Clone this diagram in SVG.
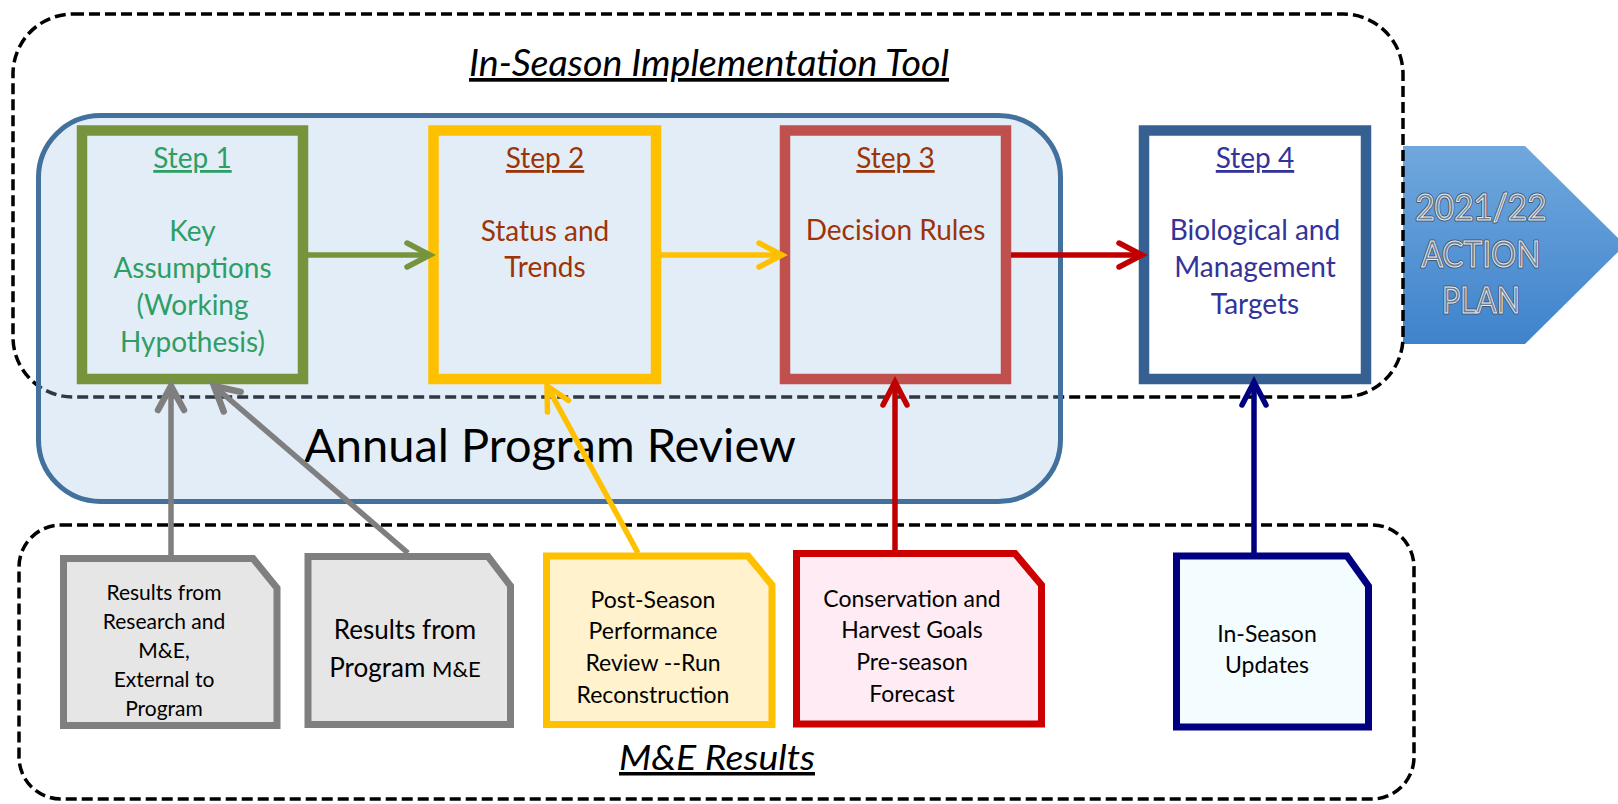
<svg xmlns="http://www.w3.org/2000/svg" width="1618" height="804" viewBox="0 0 1618 804">
<defs>
<linearGradient id="apGrad" x1="0" y1="0" x2="0" y2="1">
<stop offset="0" stop-color="#70A8DD"/>
<stop offset="1" stop-color="#3F83CC"/>
</linearGradient>
<marker id="mGreen" markerUnits="userSpaceOnUse" viewBox="-30 -16 34 32" refX="0" refY="0" markerWidth="34" markerHeight="32" orient="auto" overflow="visible"><path d="M-23,-12 L0,0 L-23,12" fill="none" stroke="#77933C" stroke-width="5.5" stroke-linecap="round"/></marker>
<marker id="mYellow" markerUnits="userSpaceOnUse" viewBox="-30 -16 34 32" refX="0" refY="0" markerWidth="34" markerHeight="32" orient="auto" overflow="visible"><path d="M-23,-12 L0,0 L-23,12" fill="none" stroke="#FFC000" stroke-width="5.5" stroke-linecap="round"/></marker>
<marker id="mRed" markerUnits="userSpaceOnUse" viewBox="-30 -16 34 32" refX="0" refY="0" markerWidth="34" markerHeight="32" orient="auto" overflow="visible"><path d="M-23,-12 L0,0 L-23,12" fill="none" stroke="#C00000" stroke-width="5.5" stroke-linecap="round"/></marker>
<marker id="mGray" markerUnits="userSpaceOnUse" viewBox="-30 -16 34 32" refX="0" refY="0" markerWidth="34" markerHeight="32" orient="auto" overflow="visible"><path d="M-24,-13 L0,0 L-24,13" fill="none" stroke="#7F7F7F" stroke-width="6.5" stroke-linecap="round"/></marker>
<marker id="mNavy" markerUnits="userSpaceOnUse" viewBox="-30 -16 34 32" refX="0" refY="0" markerWidth="34" markerHeight="32" orient="auto" overflow="visible"><path d="M-23,-12 L0,0 L-23,12" fill="none" stroke="#000080" stroke-width="5.5" stroke-linecap="round"/></marker>
</defs>
<style>
text { font-family: Lato, "Open Sans", "Liberation Sans", sans-serif; text-anchor: middle; }
.dash { fill: none; stroke: #000; stroke-width: 3.5; stroke-dasharray: 11 5; }
.title { font-style: italic; fill: #000; text-decoration: underline; }
.step { fill: none; stroke-width: 10.5; }
.stepLbl { font-size: 28px; text-decoration: underline; }
.stepTxt { font-size: 28px; }
.doc { stroke-width: 7; stroke-linejoin: miter; }
.docTxt { font-size: 23px; fill: #000; }
.conn { fill: none; stroke-width: 5.5; }
.apTxt { font-size: 36px; fill: #6C8094; stroke: #46556A; stroke-width: 3; stroke-linejoin: round; paint-order: stroke; }
.apTxt2 { font-size: 36px; fill: #6C8094; stroke: #E6EDF5; stroke-width: 1; }
</style>

<!-- Action plan arrow -->
<g id="action-plan">
<polygon points="1403,146 1525,146 1625,245 1525,344 1403,344" fill="url(#apGrad)"/>
<text class="apTxt" x="1481" y="220" textLength="131" lengthAdjust="spacingAndGlyphs">2021/22</text>
<text class="apTxt" x="1481" y="267" textLength="119" lengthAdjust="spacingAndGlyphs">ACTION</text>
<text class="apTxt" x="1481" y="313" textLength="78" lengthAdjust="spacingAndGlyphs">PLAN</text>
<text class="apTxt2" x="1481" y="220" textLength="131" lengthAdjust="spacingAndGlyphs">2021/22</text>
<text class="apTxt2" x="1481" y="267" textLength="119" lengthAdjust="spacingAndGlyphs">ACTION</text>
<text class="apTxt2" x="1481" y="313" textLength="78" lengthAdjust="spacingAndGlyphs">PLAN</text>
</g>

<!-- In-Season Implementation Tool container -->
<g id="in-season-tool">
<rect class="dash" x="13" y="14" width="1390" height="383" rx="60" ry="60"/>
<text class="title" x="709" y="76" style="font-size:37px" textLength="480" lengthAdjust="spacingAndGlyphs">In-Season Implementation Tool</text>
</g>

<!-- M&E Results container -->
<g id="me-results">
<rect class="dash" x="19" y="525" width="1395" height="274" rx="42" ry="42"/>
<text class="title" x="717" y="770" style="font-size:35px" textLength="196" lengthAdjust="spacingAndGlyphs">M&amp;E Results</text>
</g>

<!-- Annual Program Review -->
<g id="annual-review">
<rect x="38.5" y="115.5" width="1022" height="386" rx="62" ry="62" fill="rgb(157,192,227)" fill-opacity="0.29" stroke="#41719C" stroke-width="5"/>
<text x="550" y="462" style="font-size:47px" fill="#000">Annual Program Review</text>
</g>

<!-- Steps -->
<g id="step1">
<rect class="step" x="82" y="130.5" width="221" height="248.5" stroke="#77933C"/>
<text class="stepLbl" x="192.5" y="168" fill="#2E9E66">Step 1</text>
<text class="stepTxt" x="192.5" y="241" fill="#2E9E66">Key</text>
<text class="stepTxt" x="192.5" y="278" fill="#2E9E66">Assumptions</text>
<text class="stepTxt" x="192.5" y="315" fill="#2E9E66">(Working</text>
<text class="stepTxt" x="192.5" y="352" fill="#2E9E66">Hypothesis)</text>
</g>
<g id="step2">
<rect class="step" x="433.5" y="130.5" width="222.5" height="248.5" stroke="#FFC000"/>
<text class="stepLbl" x="545" y="168" fill="#9C3408">Step 2</text>
<text class="stepTxt" x="545" y="241" fill="#9C3408">Status and</text>
<text class="stepTxt" x="545" y="277" fill="#9C3408">Trends</text>
</g>
<g id="step3">
<rect class="step" x="785" y="130.5" width="221" height="248.5" stroke="#C0504D"/>
<text class="stepLbl" x="895.5" y="168" fill="#9C3408">Step 3</text>
<text class="stepTxt" x="895.5" y="240" fill="#9C3408">Decision Rules</text>
</g>
<g id="step4">
<rect class="step" x="1144" y="130.5" width="222" height="248.5" stroke="#366092" style="fill:#FFFFFF"/>
<text class="stepLbl" x="1255" y="168" fill="#333399">Step 4</text>
<text class="stepTxt" x="1255" y="240" fill="#333399">Biological and</text>
<text class="stepTxt" x="1255" y="277" fill="#333399">Management</text>
<text class="stepTxt" x="1255" y="314" fill="#333399">Targets</text>
</g>

<!-- Documents -->
<g id="doc-research">
<path class="doc" d="M63.5,558.5 H253 L277,588 V725.5 H63.5 Z" fill="#E6E6E6" stroke="#7F7F7F"/>
<text class="docTxt" x="164" y="600" style="font-size:21px">Results from</text>
<text class="docTxt" x="164" y="629" style="font-size:21px">Research and</text>
<text class="docTxt" x="164" y="658" style="font-size:21px">M&amp;E,</text>
<text class="docTxt" x="164" y="687" style="font-size:21px">External to</text>
<text class="docTxt" x="164" y="716" style="font-size:21px">Program</text>
</g>
<g id="doc-program">
<path class="doc" d="M308,556.5 H488 L510.5,586 V724.5 H308 Z" fill="#E6E6E6" stroke="#7F7F7F"/>
<text class="docTxt" x="405" y="639" style="font-size:26px">Results from</text>
<text class="docTxt" x="405" y="677" style="font-size:26px">Program <tspan style="font-size:22px">M&amp;E</tspan></text>
</g>
<g id="doc-postseason">
<path class="doc" d="M546.5,556 H748 L772,585 V724.5 H546.5 Z" fill="#FFF2CC" stroke="#FFC000"/>
<text class="docTxt" x="653" y="608">Post-Season</text>
<text class="docTxt" x="653" y="639">Performance</text>
<text class="docTxt" x="653" y="671">Review --Run</text>
<text class="docTxt" x="653" y="703">Reconstruction</text>
</g>
<g id="doc-goals">
<path class="doc" d="M796.5,553.5 H1015 L1041.5,585 V724 H796.5 Z" fill="#FFEBF3" stroke="#CC0000"/>
<text class="docTxt" x="912" y="607">Conservation and</text>
<text class="docTxt" x="912" y="638">Harvest Goals</text>
<text class="docTxt" x="912" y="670">Pre-season</text>
<text class="docTxt" x="912" y="702">Forecast</text>
</g>
<g id="doc-inseason">
<path class="doc" d="M1176.5,556 H1347 L1368.5,586 V727 H1176.5 Z" fill="#F3FCFE" stroke="#000080"/>
<text class="docTxt" x="1267" y="642">In-Season</text>
<text class="docTxt" x="1267" y="673">Updates</text>
</g>

<!-- Connectors -->
<g id="connectors">
<line class="conn" x1="308" y1="255" x2="430" y2="255" stroke="#77933C" marker-end="url(#mGreen)"/>
<line class="conn" x1="661" y1="255" x2="782" y2="255" stroke="#FFC000" marker-end="url(#mYellow)"/>
<line class="conn" x1="1011" y1="255" x2="1142" y2="255" stroke="#C00000" marker-end="url(#mRed)"/>
<line class="conn" x1="171" y1="555" x2="171" y2="386" stroke="#7F7F7F" stroke-width="6.5" marker-end="url(#mGray)"/>
<line class="conn" x1="408" y1="553" x2="214" y2="386" stroke="#7F7F7F" stroke-width="6.5" marker-end="url(#mGray)"/>
<line class="conn" x1="638" y1="553" x2="547" y2="386" stroke="#FFC000" marker-end="url(#mYellow)"/>
<line class="conn" x1="895" y1="550" x2="895" y2="382" stroke="#C00000" marker-end="url(#mRed)"/>
<line class="conn" x1="1254" y1="553" x2="1254" y2="382" stroke="#000080" marker-end="url(#mNavy)"/>
</g>
</svg>
